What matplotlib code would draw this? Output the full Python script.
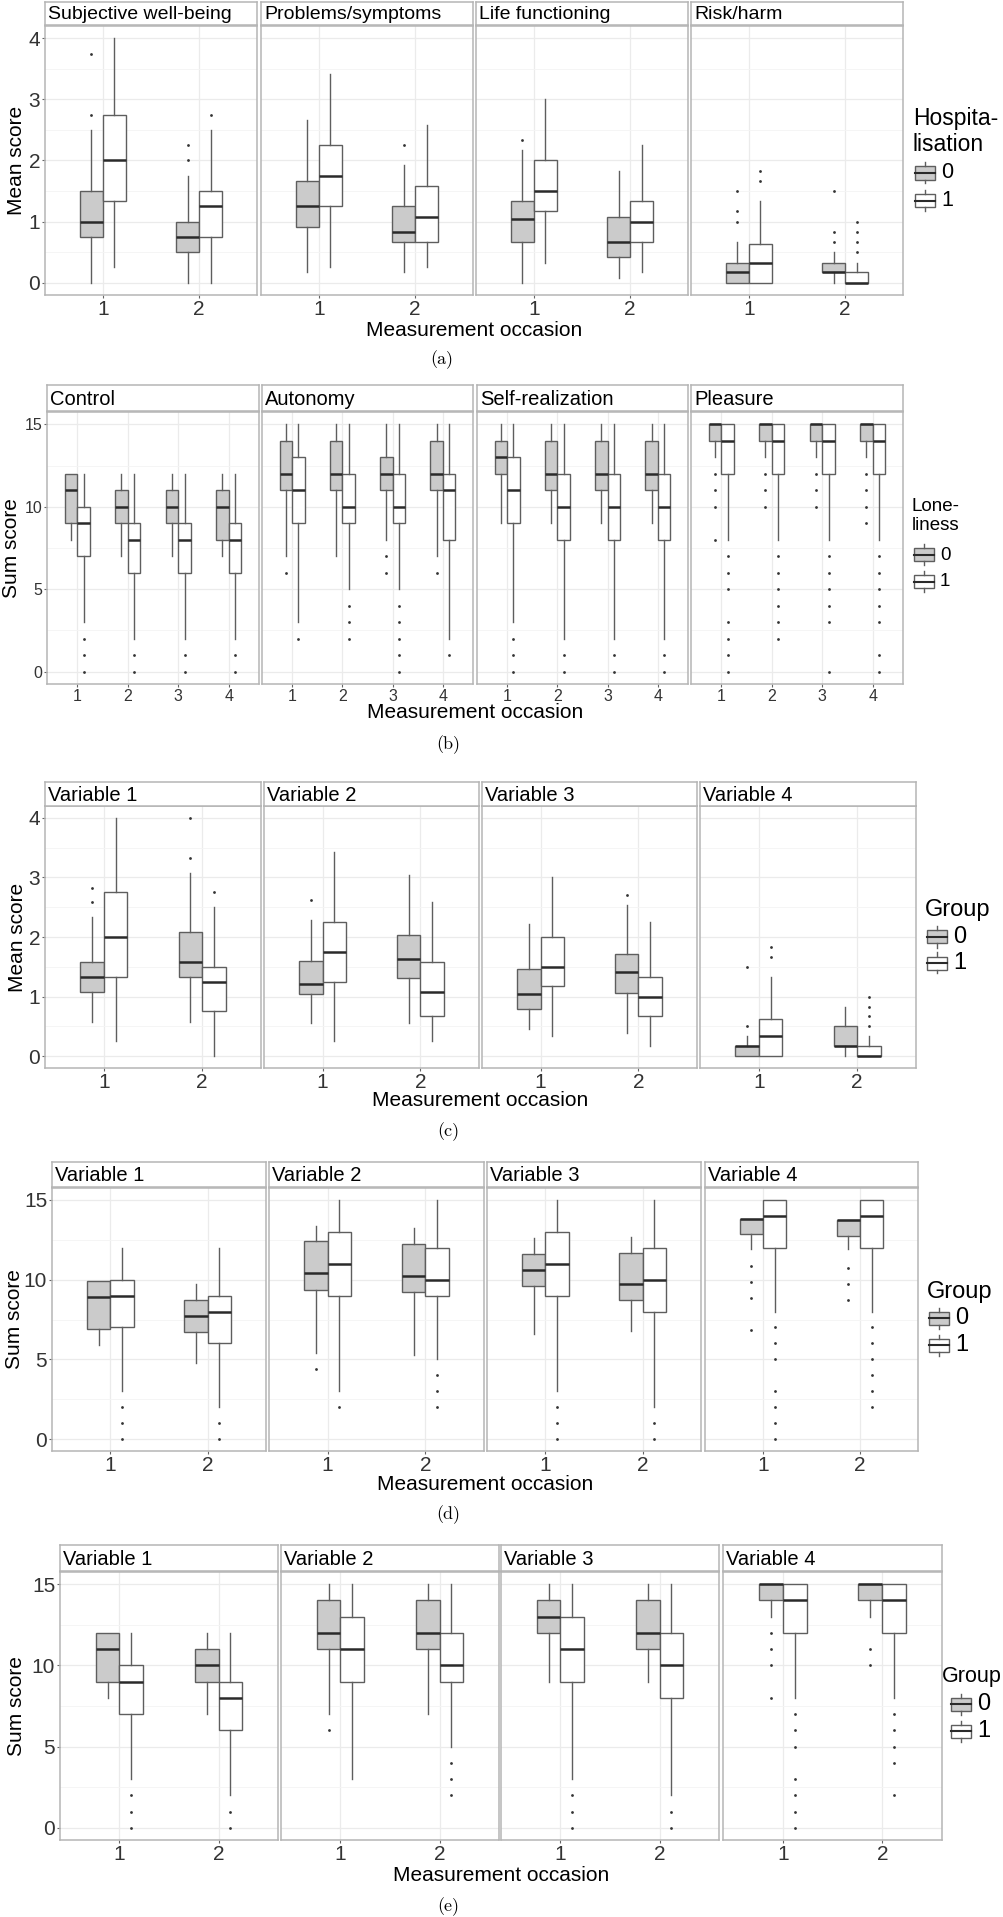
import numpy as np
import matplotlib
matplotlib.use('Agg')
import matplotlib.pyplot as plt
from matplotlib.patches import Rectangle
from matplotlib.lines import Line2D

plt.rcParams['font.family'] = ['Liberation Sans', 'DejaVu Sans']

# box data: (whisker low, q1, median, q3, whisker high, [outliers])
# one list per facet, one tuple per measurement occasion
a_titles = ['Subjective well-being', 'Problems/symptoms', 'Life functioning', 'Risk/harm']
a_group0 = [
    [(0, 0.75, 1.0, 1.5, 2.5, [2.75, 3.75]), (0, 0.5, 0.75, 1.0, 1.75, [2.0, 2.25])],
    [(0.17, 0.92, 1.25, 1.67, 2.67, []), (0.17, 0.67, 0.83, 1.25, 1.92, [2.25])],
    [(0, 0.67, 1.04, 1.33, 2.17, [2.33]), (0.08, 0.42, 0.67, 1.08, 1.83, [])],
    [(0, 0, 0.17, 0.33, 0.67, [1.0, 1.17, 1.5]), (0, 0.17, 0.17, 0.33, 0.5, [0.67, 0.83, 1.5])],
]
a_group1 = [
    [(0.25, 1.33, 2.0, 2.75, 4.0, []), (0, 0.75, 1.25, 1.5, 2.5, [2.75])],
    [(0.25, 1.25, 1.75, 2.25, 3.42, []), (0.25, 0.67, 1.08, 1.58, 2.58, [])],
    [(0.33, 1.17, 1.5, 2.0, 3.0, []), (0.17, 0.67, 1.0, 1.33, 2.25, [])],
    [(0, 0, 0.33, 0.63, 1.33, [1.67, 1.83]), (0, 0, 0, 0.17, 0.33, [0.5, 0.67, 0.83, 1.0])],
]

b_titles = ['Control', 'Autonomy', 'Self-realization', 'Pleasure']
b_group0 = [
    [(8, 9, 11, 12, 12, []), (7, 9, 10, 11, 12, []), (7, 9, 10, 11, 12, []), (7, 8, 10, 11, 12, [])],
    [(7, 11, 12, 14, 15, [6]), (7, 11, 12, 14, 15, []), (8, 11, 12, 13, 15, [7, 6]), (7, 11, 12, 14, 15, [6])],
    [(9, 12, 13, 14, 15, []), (9, 11, 12, 14, 15, []), (9, 11, 12, 14, 15, []), (9, 11, 12, 14, 15, [])],
    [(13, 14, 15, 15, 15, [12, 11, 10, 8]), (13, 14, 15, 15, 15, [12, 11, 10]),
     (13, 14, 15, 15, 15, [12, 11, 10]), (13, 14, 15, 15, 15, [12, 11, 10, 9])],
]
b_group1 = [
    [(3, 7, 9, 10, 12, [2, 1, 0]), (2, 6, 8, 9, 12, [1, 0]), (2, 6, 8, 9, 12, [1, 0]), (2, 6, 8, 9, 12, [1, 0])],
    [(3, 9, 11, 13, 15, [2]), (5, 9, 10, 12, 15, [4, 3, 2]), (5, 9, 10, 12, 15, [4, 3, 2, 1, 0]), (2, 8, 11, 12, 15, [1])],
    [(3, 9, 11, 13, 15, [2, 1, 0]), (2, 8, 10, 12, 15, [1, 0]), (2, 8, 10, 12, 15, [1, 0]), (2, 8, 10, 12, 15, [1, 0])],
    [(8, 12, 14, 15, 15, [7, 6, 5, 3, 2, 1, 0]), (8, 12, 14, 15, 15, [7, 6, 5, 4, 3, 2]),
     (8, 12, 14, 15, 15, [7, 6, 5, 4, 3, 0]), (8, 12, 14, 15, 15, [7, 6, 5, 4, 3, 1, 0])],
]

v_titles = ['Variable 1', 'Variable 2', 'Variable 3', 'Variable 4']
c_group0 = [
    [(0.58, 1.08, 1.33, 1.58, 2.33, [2.58, 2.83]), (0.58, 1.33, 1.58, 2.08, 3.08, [3.33, 4.0])],
    [(0.56, 1.04, 1.21, 1.6, 2.29, [2.62]), (0.56, 1.31, 1.63, 2.04, 3.04, [])],
    [(0.46, 0.79, 1.04, 1.46, 2.21, []), (0.38, 1.06, 1.42, 1.71, 2.54, [2.71])],
    [(0, 0, 0.17, 0.17, 0.33, [0.5, 1.5]), (0, 0.17, 0.17, 0.5, 0.83, [])],
]
c_group1 = [
    [(0.25, 1.33, 2.0, 2.75, 4.0, []), (0, 0.75, 1.25, 1.5, 2.5, [2.75])],
    [(0.25, 1.25, 1.75, 2.25, 3.42, []), (0.25, 0.67, 1.08, 1.58, 2.58, [])],
    [(0.33, 1.17, 1.5, 2.0, 3.0, []), (0.17, 0.67, 1.0, 1.33, 2.25, [])],
    [(0, 0, 0.33, 0.63, 1.33, [1.67, 1.83]), (0, 0, 0, 0.17, 0.33, [0.5, 0.67, 0.83, 1.0])],
]

d_group0 = [
    [(5.9, 6.9, 8.9, 9.9, 9.9, []), (4.75, 6.7, 7.7, 8.7, 9.7, [])],
    [(5.4, 9.35, 10.4, 12.4, 13.35, [4.4]), (5.25, 9.25, 10.25, 12.25, 13.25, [])],
    [(6.6, 9.6, 10.6, 11.6, 12.6, []), (6.75, 8.7, 9.7, 11.7, 12.7, [])],
    [(11.9, 12.85, 13.8, 13.8, 13.8, [10.85, 9.85, 8.85, 6.85]), (11.9, 12.75, 13.75, 13.75, 13.75, [10.75, 9.75, 8.75])],
]
d_group1 = [
    [(3, 7, 9, 10, 12, [2, 1, 0]), (2, 6, 8, 9, 12, [1, 0])],
    [(3, 9, 11, 13, 15, [2]), (5, 9, 10, 12, 15, [4, 3, 2])],
    [(3, 9, 11, 13, 15, [2, 1, 0]), (2, 8, 10, 12, 15, [1, 0])],
    [(8, 12, 14, 15, 15, [7, 6, 5, 3, 2, 1, 0]), (8, 12, 14, 15, 15, [7, 6, 5, 4, 3, 2])],
]

e_group0 = [
    [(8, 9, 11, 12, 12, []), (7, 9, 10, 11, 12, [])],
    [(7, 11, 12, 14, 15, [6]), (7, 11, 12, 14, 15, [])],
    [(9, 12, 13, 14, 15, []), (9, 11, 12, 14, 15, [])],
    [(13, 14, 15, 15, 15, [12, 11, 10, 8]), (13, 14, 15, 15, 15, [11, 10])],
]
e_group1 = [
    [(3, 7, 9, 10, 12, [2, 1, 0]), (2, 6, 8, 9, 12, [1, 0])],
    [(3, 9, 11, 13, 15, []), (5, 9, 10, 12, 15, [4, 3, 2])],
    [(3, 9, 11, 13, 15, [2, 1, 0]), (2, 8, 10, 12, 15, [1, 0])],
    [(8, 12, 14, 15, 15, [7, 6, 5, 3, 2, 1, 0]), (8, 12, 14, 15, 15, [7, 6, 5, 4, 2])],
]

mean_ticks = [0, 1, 2, 3, 4]
sum_ticks = [0, 5, 10, 15]

GRAY = '#cbcbcb'
EDGE = '#5e5e5e'
MEDC = '#2a2a2a'
FRAME = '#b5b5b5'
GRID = '#ebebeb'

W, H = 1004, 1917
fig = plt.figure(figsize=(W / 100, H / 100), dpi=100)


def fx(x):
    return x / W


def fy(y):
    return 1 - y / H


def draw_row(titles, g0, g1, yticks, ylim, ylabel, strip, panel, cols, tick_fs,
             strip_fs, box_w, ylab_x, xlab_y, caption, cap_xy):
    top, bot = panel
    step = yticks[1] - yticks[0]
    minor = [t + step / 2 for t in yticks[:-1]]
    for i, (x0, x1) in enumerate(cols):
        ax = fig.add_axes([fx(x0), fy(bot), (x1 - x0) / W, (bot - top) / H])
        n = len(g0[i])
        pos = np.arange(1, n + 1)
        for grp, off, fc in ((g0[i], -box_w / 2, GRAY), (g1[i], box_w / 2, 'white')):
            stats = [dict(whislo=s[0], q1=s[1], med=s[2], q3=s[3], whishi=s[4], fliers=s[5])
                     for s in grp]
            ax.bxp(stats, positions=pos + off, widths=box_w, patch_artist=True,
                   showcaps=False, manage_ticks=False,
                   boxprops=dict(facecolor=fc, edgecolor=EDGE, linewidth=1),
                   whiskerprops=dict(color=EDGE, linewidth=1),
                   medianprops=dict(color=MEDC, linewidth=1.8),
                   flierprops=dict(marker='o', markersize=2, markerfacecolor='#333333',
                                   markeredgecolor='none'))
        ax.set_xlim(0.4, n + 0.6)
        ax.set_ylim(*ylim)
        ax.set_xticks(pos)
        ax.set_xticklabels([str(p) for p in pos])
        ax.set_yticks(yticks)
        ax.set_yticks(minor, minor=True)
        ax.grid(which='major', color=GRID, lw=0.9)
        ax.grid(which='minor', axis='y', color='#f4f4f4', lw=0.6)
        ax.set_axisbelow(True)
        for sp in ax.spines.values():
            sp.set_color(FRAME)
            sp.set_linewidth(1.1)
        ax.tick_params(which='major', length=2.5, width=0.8, color='#666666',
                       labelsize=tick_fs, pad=1, labelcolor='#333333')
        ax.tick_params(which='minor', length=0)
        if i > 0:
            ax.tick_params(axis='y', labelleft=False, length=0)

        sax = fig.add_axes([fx(x0), fy(strip[1]), (x1 - x0) / W, (strip[1] - strip[0]) / H])
        sax.set_xticks([])
        sax.set_yticks([])
        for sp in sax.spines.values():
            sp.set_color(FRAME)
            sp.set_linewidth(1.1)
        sax.text(3 / (x1 - x0), 0.45, titles[i], transform=sax.transAxes,
                 ha='left', va='center', fontsize=strip_fs, color='black')

    fig.text(fx(ylab_x), fy((top + bot) / 2), ylabel, rotation=90,
             ha='center', va='center', fontsize=15)
    fig.text(fx((cols[0][0] + cols[-1][1]) / 2), fy(xlab_y), 'Measurement occasion',
             ha='center', va='center', fontsize=15)
    fig.text(fx(cap_xy[0]), fy(cap_xy[1]), caption, ha='center', va='center',
             fontsize=13, family=['cmr10', 'DejaVu Serif'])


def draw_legend(title, x_key, y_top, y_keys, title_fs, label_fs, spacing, title_x=None):
    if title_x is None:
        title_x = x_key - 2
    fig.text(fx(title_x), fy(y_top), title, ha='left', va='top',
             fontsize=title_fs, linespacing=spacing)
    kw, kh = 20, 13
    for yc, fc, lab in zip(y_keys, (GRAY, 'white'), ('0', '1')):
        fig.add_artist(Rectangle((fx(x_key), fy(yc + kh / 2)), kw / W, kh / H,
                                 transform=fig.transFigure, facecolor=fc,
                                 edgecolor=EDGE, lw=1))
        fig.add_artist(Line2D([fx(x_key), fx(x_key + kw)], [fy(yc), fy(yc)],
                              transform=fig.transFigure, color=MEDC, lw=1.5))
        xm = x_key + kw / 2
        fig.add_artist(Line2D([fx(xm), fx(xm)], [fy(yc - kh / 2 - 4), fy(yc - kh / 2)],
                              transform=fig.transFigure, color=EDGE, lw=1))
        fig.add_artist(Line2D([fx(xm), fx(xm)], [fy(yc + kh / 2), fy(yc + kh / 2 + 4)],
                              transform=fig.transFigure, color=EDGE, lw=1))
        fig.text(fx(x_key + kw + 6), fy(yc), lab, ha='left', va='center', fontsize=label_fs)


# (a)
draw_row(a_titles, a_group0, a_group1, mean_ticks, (-0.2, 4.2), 'Mean score',
         (2, 25), (26, 295), [(45, 257), (261, 473), (476, 688), (691, 903)],
         15, 14, 0.24, 17, 330, '(a)', (442, 360))
draw_legend('Hospita-\nlisation', 915, 107, (173, 201), 16.5, 15.5, 1.15)

# (b)
draw_row(b_titles, b_group0, b_group1, sum_ticks, (-0.75, 15.75), 'Sum score',
         (385, 411), (412, 684), [(47, 259), (262, 473), (477, 688), (691, 903)],
         11.5, 14.5, 0.25, 12, 713, '(b)', (448, 745))
draw_legend('Lone-\nliness', 914, 498, (555, 582), 13.5, 13.5, 1.15)

# (c)
draw_row(v_titles, c_group0, c_group1, mean_ticks, (-0.2, 4.2), 'Mean score',
         (782, 806), (806, 1068), [(45, 261), (264, 479), (482, 697), (700, 916)],
         15, 14.5, 0.24, 18, 1101, '(c)', (448, 1132))
draw_legend('Group', 927, 899, (937, 963), 17, 17, 1.15)

# (d)
draw_row(v_titles, d_group0, d_group1, sum_ticks, (-0.75, 15.75), 'Sum score',
         (1162, 1187), (1188, 1451), [(52, 266), (269, 484), (487, 701), (705, 918)],
         15, 14.5, 0.24, 15, 1485, '(d)', (448, 1515))
draw_legend('Group', 929, 1281, (1318, 1345), 17, 17, 1.15)

# (e)
draw_row(v_titles, e_group0, e_group1, sum_ticks, (-0.75, 15.75), 'Sum score',
         (1545, 1571), (1572, 1840), [(60, 278), (281, 499), (501, 719), (723, 942)],
         15, 14.5, 0.24, 17, 1875, '(e)', (448, 1907))
draw_legend('Group', 951, 1666, (1704, 1731), 15.5, 17, 1.15, title_x=942)

fig.savefig('out.png', dpi=100)
